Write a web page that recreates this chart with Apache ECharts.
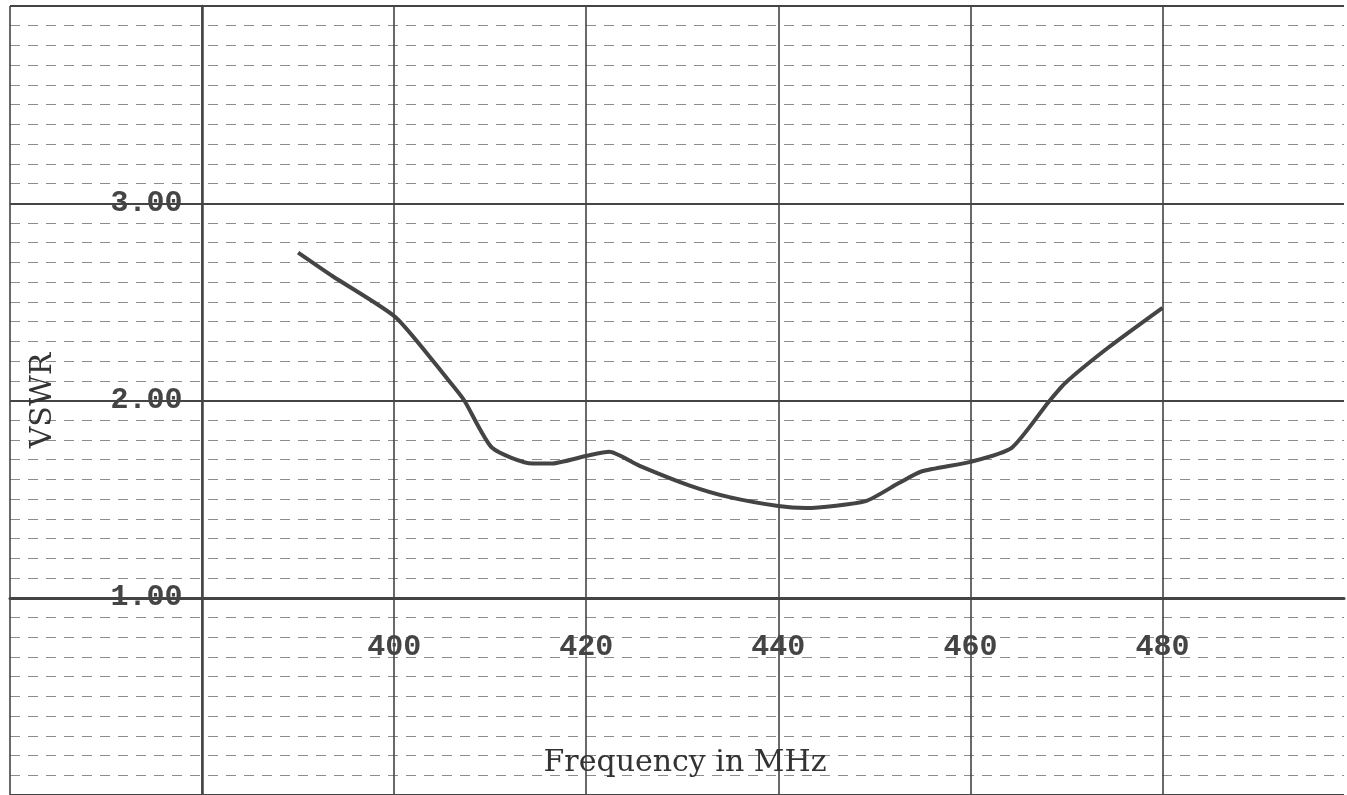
<!DOCTYPE html>
<html>
<head>
<meta charset="utf-8">
<script src="https://cdn.jsdelivr.net/npm/echarts@6/dist/echarts.min.js"></script>
<style>
html,body{margin:0;padding:0;background:#fff;}
#chart{width:1347px;height:795px;}
</style>
</head>
<body>
<div id="chart"></div>
<script>
// Data
const freqMHz = [390, 393.6, 400.2, 405.7, 407.3, 410.2, 414.4, 416.3, 420.1, 422.4, 425.5, 430.7, 434.9, 440.0, 442.9, 449.1, 452.5, 454.9, 460.1, 464.3, 468.1, 469.9, 474.4, 480.0];
const vswr    = [2.75, 2.63, 2.42, 2.10, 2.00, 1.76, 1.68, 1.68, 1.72, 1.74, 1.67, 1.57, 1.51, 1.465, 1.455, 1.49, 1.58, 1.64, 1.69, 1.76, 1.99, 2.09, 2.27, 2.47];
const xTickLabels = [400, 420, 440, 460, 480];
const yTickLabels = [1, 2, 3];

const xMin = 360, xMax = 498.9, yMin = 0, yMax = 4;

const chart = echarts.init(document.getElementById('chart'), null, {renderer: 'canvas'});
const monoFont = 'Liberation Mono';
const serifFont = 'DejaVu Serif';
const gridColor = '#444';

chart.setOption({
  backgroundColor: '#ffffff',
  animation: false,
  grid: {left: 10, right: 0, top: 6, bottom: 0, containLabel: false},
  xAxis: {
    type: 'value', min: xMin, max: xMax, interval: 20,
    offset: -197,
    name: 'Frequency in MHz', nameLocation: 'middle', nameGap: 150,
    nameTextStyle: {fontFamily: serifFont, fontSize: 30, color: '#333', padding: [0, 0, 0, 16]},
    axisLine: {show: true, lineStyle: {color: '#444', width: 3}},
    axisTick: {show: false},
    axisLabel: {
      margin: 34, fontFamily: monoFont, fontSize: 30, fontWeight: 'bold', color: '#444',
      formatter: v => xTickLabels.indexOf(v) >= 0 ? String(v) : ''
    },
    splitLine: {show: true, lineStyle: {
      color: [gridColor, gridColor, gridColor, gridColor, gridColor, gridColor, gridColor, 'rgba(0,0,0,0)'],
      width: 1.6
    }}
  },
  yAxis: [
    {
      type: 'value', min: yMin, max: yMax, interval: 0.1,
      axisLine: {show: false}, axisTick: {show: false}, axisLabel: {show: false},
      splitLine: {show: true, lineStyle: {color: '#8c8c8c', width: 1, type: [10, 8]}}
    },
    {
      type: 'value', min: yMin, max: yMax, interval: 1,
      position: 'left', offset: -192.5,
      name: 'VSWR', nameLocation: 'middle', nameGap: 144, nameRotate: 90,
      nameTextStyle: {fontFamily: serifFont, fontSize: 30, color: '#333'},
      axisLine: {show: true, lineStyle: {color: '#444', width: 2.5}},
      axisTick: {show: false},
      axisLabel: {
        margin: 20, fontFamily: monoFont, fontSize: 30, fontWeight: 'bold', color: '#444',
        formatter: v => yTickLabels.indexOf(Math.round(v * 100) / 100) >= 0 ? v.toFixed(2) : ''
      },
      splitLine: {show: true, lineStyle: {color: '#444', width: 1.8}}
    }
  ],
  series: [{
    type: 'line',
    xAxisIndex: 0, yAxisIndex: 1,
    data: freqMHz.map((f, i) => [f, vswr[i]]),
    showSymbol: false, symbol: 'none',
    smooth: 0.2,
    lineStyle: {color: '#444', width: 4},
    z: 5
  }]
});
</script>
</body>
</html>
